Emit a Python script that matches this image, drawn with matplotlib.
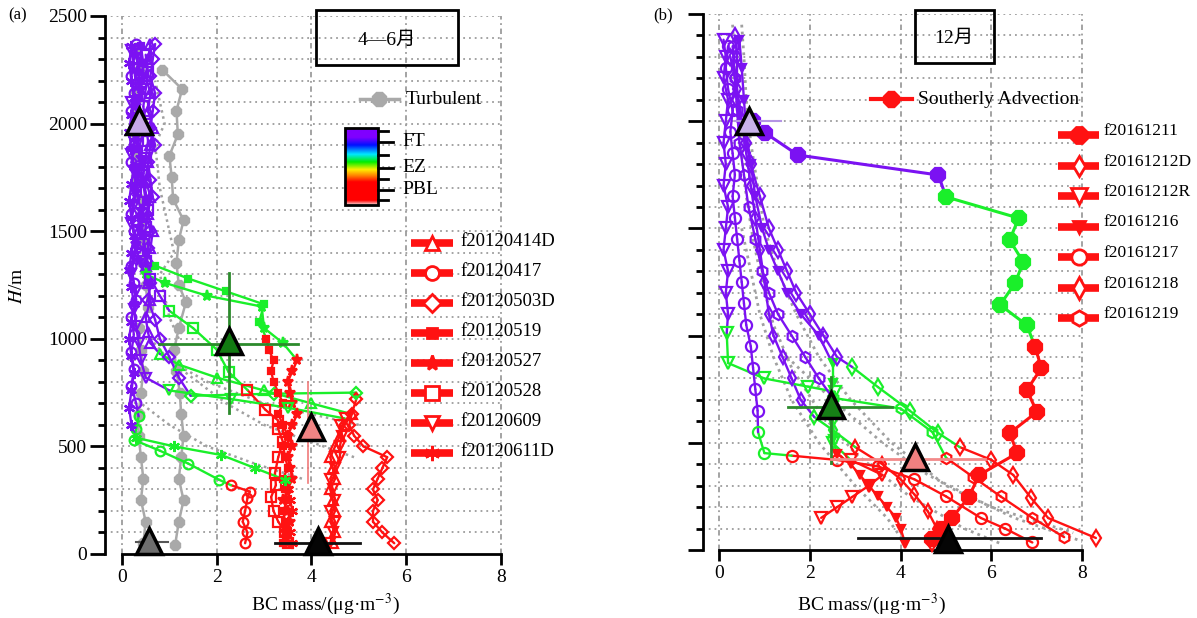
import numpy as np
import matplotlib
matplotlib.use("Agg")
import matplotlib.pyplot as plt
from matplotlib.colors import LinearSegmentedColormap
from matplotlib.patches import Rectangle

plt.rcParams['font.family'] = ['Liberation Serif', 'Noto Sans CJK SC']
plt.rcParams['mathtext.fontset'] = 'stix'

# ---------------- panel (a): Apr-Jun 2012 flights ----------------
a_names = ['f20120414D', 'f20120417', 'f20120503D', 'f20120519',
           'f20120527', 'f20120528', 'f20120609', 'f20120611D']

a1_h = [50, 100, 150, 200, 250, 300, 350, 400, 450, 500, 550, 600, 650, 700, 760, 820, 880, 930,
        980, 1030, 1100, 1180, 1260, 1340, 1420, 1500, 1580, 1660, 1740, 1820, 1900, 1980, 2060,
        2140, 2220, 2300, 2370]
a1_bc = [4.45, 4.5, 4.4, 4.5, 4.45, 4.4, 4.5, 4.45, 4.4, 4.5, 4.6, 4.7, 4.85, 4.0, 3.0, 2.0, 1.2, 0.8,
         0.6, 0.55, 0.5, 0.6, 0.55, 0.5, 0.6, 0.65, 0.55, 0.6, 0.5, 0.55, 0.6, 0.65, 0.55,
         0.6, 0.5, 0.55, 0.6]
a2_h = [50, 100, 150, 200, 260, 290, 320, 345, 420, 480, 530, 580, 640, 700, 780, 860, 940, 1020,
        1100, 1180, 1260, 1340, 1420, 1500, 1580, 1660, 1740, 1820, 1900, 1980, 2060, 2140, 2220,
        2300, 2370]
a2_bc = [2.6, 2.65, 2.55, 2.6, 2.65, 2.7, 2.3, 2.05, 1.4, 0.8, 0.25, 0.3, 0.35, 0.3, 0.2, 0.25, 0.2,
         0.25, 0.2, 0.3, 0.25, 0.2, 0.3, 0.25, 0.2, 0.25, 0.3, 0.2, 0.25, 0.3, 0.2, 0.25, 0.2,
         0.25, 0.3]
a3_h = [50, 100, 150, 200, 250, 300, 350, 400, 450, 500, 550, 600, 650, 720, 750, 745, 735, 820,
        916, 1000, 1088, 1180, 1260, 1340, 1420, 1500, 1580, 1660, 1740, 1820, 1900, 1980, 2060,
        2140, 2220, 2300, 2370]
a3_bc = [5.75, 5.5, 5.3, 5.3, 5.4, 5.3, 5.4, 5.5, 5.6, 5.1, 4.9, 4.8, 4.85, 4.95, 4.95, 3.2, 1.45,
         1.2, 1.0, 0.8, 0.7, 0.55, 0.6, 0.5, 0.55, 0.6, 0.5, 0.65, 0.6, 0.55, 0.7, 0.6, 0.65,
         0.7, 0.6, 0.65, 0.7]
a4_h = [50, 100, 150, 200, 250, 300, 350, 400, 450, 500, 550, 600, 650, 700, 750, 800, 850, 900,
        950, 1000, 1080, 1160, 1220, 1280, 1340, 1400, 1480, 1560, 1640, 1720, 1800, 1880, 1960,
        2040, 2120, 2200, 2280, 2360]
a4_bc = [3.4, 3.5, 3.45, 3.4, 3.5, 3.45, 3.4, 3.5, 3.45, 3.4, 3.5, 3.4, 3.3, 3.4, 3.3, 3.2, 3.15,
         3.2, 3.1, 3.05, 2.9, 3.0, 2.2, 1.4, 0.7, 0.5, 0.45, 0.4, 0.5, 0.45, 0.4, 0.35, 0.45,
         0.4, 0.35, 0.4, 0.45, 0.4]
a5_h = [50, 100, 150, 200, 250, 300, 350, 400, 450, 500, 550, 600, 650, 700, 750, 800, 850, 900,
        980, 1050, 1150, 1200, 1260, 1300, 1360, 1440, 1520, 1600, 1680, 1760, 1840, 1920, 2000,
        2080, 2160, 2240, 2320]
a5_bc = [3.5, 3.45, 3.55, 3.5, 3.4, 3.5, 3.6, 3.55, 3.5, 3.6, 3.5, 3.6, 3.7, 3.6, 3.55, 3.5, 3.6,
         3.7, 3.4, 3.0, 2.95, 1.8, 0.9, 0.5, 0.35, 0.3, 0.35, 0.4, 0.3, 0.35, 0.4, 0.3, 0.35,
         0.3, 0.4, 0.35, 0.3]
a6_h = [50, 100, 150, 200, 265, 320, 375, 450, 520, 580, 620, 670, 762, 846, 950, 1050, 1130,
        1200, 1280, 1360, 1440, 1520, 1600, 1680, 1760, 1840, 1920, 2000, 2080, 2160, 2240, 2320]
a6_bc = [3.5, 3.45, 3.3, 3.2, 3.15, 3.25, 3.23, 3.3, 3.4, 3.3, 3.3, 3.03, 2.65, 2.25, 2.0, 1.5,
         1.0, 0.8, 0.6, 0.5, 0.45, 0.5, 0.55, 0.5, 0.45, 0.5, 0.55, 0.5, 0.45, 0.5, 0.55, 0.5]
a7_h = [50, 100, 150, 200, 250, 300, 350, 400, 450, 500, 550, 600, 630, 680, 720, 760, 820, 900,
        980, 1060, 1140, 1220, 1300, 1380, 1460, 1540, 1620, 1700, 1780, 1860, 1940, 2020, 2100,
        2180, 2260, 2340]
a7_bc = [4.4, 4.45, 4.5, 4.4, 4.5, 4.45, 4.4, 4.5, 4.6, 4.6, 4.65, 4.6, 4.7, 3.5, 2.3, 1.0, 0.5,
         0.4, 0.35, 0.3, 0.25, 0.3, 0.2, 0.25, 0.3, 0.2, 0.25, 0.3, 0.25, 0.2, 0.3, 0.25, 0.2,
         0.3, 0.25, 0.2]
a8_h = [50, 100, 150, 200, 250, 300, 344, 400, 460, 500, 540, 600, 680, 760, 840, 920, 1000,
        1080, 1160, 1240, 1320, 1400, 1480, 1560, 1640, 1720, 1800, 1880, 1960, 2040, 2120, 2200,
        2280, 2360]
a8_bc = [3.6, 3.55, 3.5, 3.6, 3.55, 3.5, 3.45, 2.8, 2.1, 1.1, 0.3, 0.2, 0.15, 0.2, 0.25, 0.2,
         0.15, 0.2, 0.25, 0.2, 0.15, 0.2, 0.25, 0.2, 0.15, 0.2, 0.25, 0.2, 0.15, 0.2, 0.25, 0.2,
         0.15, 0.2]
# tops of the boundary layer and of the entrainment zone (m)
a_pbl = [660, 330, 725, 1010, 920, 780, 640, 320]
a_ez = [940, 660, 800, 1370, 1320, 1140, 790, 560]

# turbulent-regime profiles
ta1_h = [50, 150, 250, 350, 450, 550, 650, 750, 850, 950, 1050, 1150, 1250, 1350, 1450, 1550,
         1650, 1750, 1850, 1950, 2050, 2150, 2250, 2350]
ta1_bc = [0.45, 0.5, 0.4, 0.45, 0.4, 0.35, 0.35, 0.4, 0.45, 0.4, 0.35, 0.55, 0.5, 0.45, 0.45,
          0.45, 0.35, 0.3, 0.3, 0.3, 0.3, 0.3, 0.35, 0.3]
ta2_h = [40, 150, 250, 350, 450, 550, 650, 750, 850, 950, 1050, 1170, 1250, 1350, 1460, 1550,
         1650, 1750, 1850, 1950, 2060, 2160, 2250]
ta2_bc = [1.12, 1.2, 1.3, 1.2, 1.25, 1.3, 1.25, 1.22, 1.15, 1.1, 1.2, 1.35, 1.2, 1.15, 1.2, 1.3,
          1.08, 1.05, 1.0, 1.18, 1.15, 1.27, 0.85]
# dotted reference profiles
da1_h = [450, 520, 600, 700, 800, 900, 1000]
da1_bc = [4.9, 4.0, 3.0, 2.2, 1.6, 1.0, 0.6]
da2_h = [350, 420, 500, 600, 700]
da2_bc = [3.8, 2.8, 1.8, 1.0, 0.4]
da3_h = [600, 650, 700, 800, 900]
da3_bc = [5.0, 4.0, 3.0, 1.8, 1.0]
da4_h = [1000, 1100, 1200, 1300, 1400, 1500, 1600, 1700, 1800, 1900, 2000, 2100, 2200]
da4_bc = [1.2, 1.0, 0.9, 0.8, 1.1, 1.0, 0.9, 0.8, 0.75, 0.7, 0.9, 0.8, 0.7]

# layer means: FT, EZ, PBL upper, surface, turbulent surface
a_mean_bc = [0.35, 2.25, 4.0, 4.13, 0.57]
a_mean_h = [2010, 990, 590, 60, 60]

# ---------------- panel (b): Dec 2016 flights ----------------
b_names = ['f20161211', 'f20161212D', 'f20161212R', 'f20161216',
           'f20161217', 'f20161218', 'f20161219']

b1_h = [50, 100, 149, 247, 350, 452, 545, 644, 746, 849, 947, 1049, 1143, 1245, 1343, 1446,
        1548, 1647, 1749, 1842, 1945, 2000]
b1_bc = [4.7, 4.9, 5.13, 5.5, 5.73, 6.57, 6.4, 7.0, 6.78, 7.1, 6.96, 6.78, 6.19, 6.52, 6.7, 6.4,
         6.6, 5.0, 4.83, 1.74, 1.02, 0.75]
b2_h = [30, 100, 180, 260, 330, 400, 480, 560, 620, 700, 800, 900, 1000, 1100, 1250, 1400, 1550,
        1700, 1850, 2000, 2150, 2300, 2400]
b2_bc = [4.7, 4.8, 4.6, 4.3, 4.0, 3.6, 3.0, 2.5, 2.1, 1.8, 1.6, 1.4, 1.2, 1.1, 1.0, 0.9, 0.8,
         0.7, 0.6, 0.5, 0.4, 0.4, 0.35]
b3_h = [150, 200, 247, 300, 350, 420, 500, 600, 738, 762, 800, 872, 1012, 1100, 1200, 1300, 1400,
        1500, 1600, 1700, 1800, 1900, 2000, 2100, 2200, 2300, 2380]
b3_bc = [2.25, 2.6, 2.93, 3.3, 3.6, 2.9, 2.5, 2.5, 2.55, 1.96, 1.0, 0.2, 0.17, 0.2, 0.15, 0.2,
         0.1, 0.15, 0.2, 0.1, 0.15, 0.1, 0.15, 0.2, 0.1, 0.15, 0.1]
b4_h = [30, 100, 150, 200, 250, 300, 350, 400, 450, 520, 650, 780, 870, 1000, 1100, 1200, 1300,
        1400, 1500, 1650, 1800, 1950, 2100, 2250, 2380]
b4_bc = [4.1, 4.0, 3.9, 3.7, 3.5, 3.3, 3.1, 2.9, 2.6, 2.5, 2.45, 2.5, 2.5, 2.2, 1.8, 1.5, 1.3,
         1.1, 0.95, 0.8, 0.7, 0.6, 0.55, 0.5, 0.45]
b5_h = [35, 100, 149, 250, 330, 390, 420, 440, 452, 550, 650, 750, 850, 950, 1050, 1150, 1250,
        1350, 1450, 1550, 1650, 1750, 1850, 1950, 2050, 2150, 2250, 2350]
b5_bc = [6.9, 6.3, 5.77, 5.0, 4.3, 3.5, 2.6, 1.6, 1.0, 0.86, 0.85, 0.8, 0.75, 0.7, 0.6, 0.55,
         0.5, 0.45, 0.4, 0.35, 0.3, 0.35, 0.3, 0.25, 0.3, 0.2, 0.15, 0.2]
b6_h = [56, 149, 243, 350, 420, 480, 545, 650, 760, 854, 900, 1000, 1100, 1200, 1300, 1400, 1500,
        1650, 1800, 1900, 2000, 2100, 2200, 2300]
b6_bc = [8.3, 7.25, 6.87, 6.48, 6.0, 5.3, 4.83, 4.2, 3.5, 2.93, 2.6, 2.3, 2.0, 1.7, 1.5, 1.3,
         1.1, 0.9, 0.7, 0.6, 0.5, 0.4, 0.35, 0.25]
b7_h = [60, 150, 250, 340, 430, 550, 660, 710, 800, 900, 1000, 1100, 1200, 1300, 1450, 1600,
        1750, 1900, 2050, 2200, 2350]
b7_bc = [7.6, 6.9, 6.2, 5.6, 5.0, 4.7, 4.0, 2.5, 2.2, 1.9, 1.6, 1.3, 1.1, 0.95, 0.8, 0.65, 0.55,
         0.45, 0.4, 0.35, 0.3]
b_pbl = [960, 520, 460, 470, 445, 530, 450]
b_ez = [1700, 650, 1050, 900, 560, 870, 760]

# dotted reference profiles
db1_h = [2450, 2300, 2100, 1900, 1700, 1500, 1300, 1100, 900, 700, 500, 300, 150, 40]
db1_bc = [0.5, 0.55, 0.6, 0.7, 0.85, 1.0, 1.3, 1.7, 2.2, 2.9, 3.8, 5.0, 6.5, 8.0]
db2_h = [2450, 2250, 2050, 1850, 1650, 1450, 1250, 1050, 850, 650, 450, 250, 100, 30]
db2_bc = [0.3, 0.35, 0.4, 0.5, 0.6, 0.75, 0.95, 1.2, 1.6, 2.2, 3.0, 4.2, 5.4, 6.2]
db3_h = [1500, 1300, 1100, 900, 700, 500, 300, 150, 30]
db3_bc = [0.5, 0.7, 0.9, 1.2, 1.6, 2.2, 3.0, 3.7, 4.1]
db4_h = [900, 700, 500, 350, 200, 80]
db4_bc = [1.5, 2.5, 3.6, 4.6, 6.0, 7.8]

b_mean_bc = [0.65, 2.47, 4.32, 5.04]
b_mean_h = [2000, 676, 434, 50]

RED = '#ff1212'
GREEN = '#1aef2a'
PURPLE = '#7b12f2'
GRAY = '#a9a9a9'


def layer_color(z, pbl, ez):
    if z <= pbl:
        return RED
    if z <= ez:
        return GREEN
    return PURPLE


def draw_flight(ax, bc, h, pbl, ez, marker, ms=7, filled=False, lw=1.7):
    cols = [layer_color(z, pbl, ez) for z in h]
    for i in range(len(h) - 1):
        ax.plot(bc[i:i + 2], h[i:i + 2], color=cols[i + 1], lw=lw, zorder=3,
                solid_capstyle='round')
    for x, z, c in zip(bc, h, cols):
        ax.plot(x, z, marker=marker, ms=ms, mec=c, mfc=c if filled else 'none',
                mew=1.6, zorder=4, clip_on=False)


def setup(ax, xmin, ylabels=True):
    ax.set_xlim(xmin, ax.get_xlim()[1])
    ax.set_ylim(0, 2500)
    ax.patch.set_alpha(0)
    for s in ['top', 'right']:
        ax.spines[s].set_visible(False)
    ax.spines['bottom'].set_bounds(0, 8)
    ax.spines['left'].set_bounds(0, 2500)
    for s in ['bottom', 'left']:
        ax.spines[s].set_linewidth(2)
    ax.set_xticks([0, 2, 4, 6, 8])
    ax.set_yticks(range(0, 2501, 500))
    ax.set_yticks(range(0, 2501, 100), minor=True)
    ax.tick_params(axis='y', which='major', length=11, width=2, labelsize=14, pad=2,
                   labelleft=ylabels)
    ax.tick_params(axis='y', which='minor', length=5, width=2)
    ax.tick_params(axis='x', which='major', length=8, width=2, labelsize=14, pad=3)
    ax.hlines(range(100, 2501, 100), xmin, 8, colors='#9c9c9c', lw=1.3,
              linestyles=(0, (1, 2.2)), zorder=1)
    ax.vlines([0, 2, 4, 6, 8], 0, 2500, colors='#9c9c9c', lw=1.3,
              linestyles=(0, (3, 2, 1, 2)), zorder=1)


fig = plt.figure(figsize=(11.97, 6.18), dpi=100)
ax_a = fig.add_axes([105 / 1197, 64 / 618, 410 / 1197, 538 / 618])
ax_b = fig.add_axes([703 / 1197, 68 / 618, 402 / 1197, 536 / 618])
ax_a.set_xlim(-0.359, 8.3)
ax_b.set_xlim(-0.352, 8.5)
setup(ax_a, -0.359, True)
setup(ax_b, -0.352, False)

# ---- panel (a) ----
for bc, h in [(da1_bc, da1_h), (da2_bc, da2_h), (da3_bc, da3_h), (da4_bc, da4_h)]:
    ax_a.plot(bc, h, color='#a0a0a0', lw=1.8, ls=(0, (1, 1.5)), zorder=2)
for bc, h in [(ta1_bc, ta1_h), (ta2_bc, ta2_h)]:
    ax_a.plot(bc, h, color=GRAY, lw=1.8, marker='8', ms=8, zorder=2)

a_bc = [a1_bc, a2_bc, a3_bc, a4_bc, a5_bc, a6_bc, a7_bc, a8_bc]
a_h = [a1_h, a2_h, a3_h, a4_h, a5_h, a6_h, a7_h, a8_h]
a_marker = ['^', 'o', 'D', 's', '*', 's', 'v', (6, 2, 0)]
a_ms = [7, 7, 6, 4, 8, 7, 7, 8]
a_fill = [False, False, False, True, True, False, False, False]
for i in range(8):
    draw_flight(ax_a, a_bc[i], a_h[i], a_pbl[i], a_ez[i], a_marker[i], a_ms[i], a_fill[i])

# error bars of the layer means
ax_a.plot([0.78, 3.72], [975, 975], color='#2c8a2c', lw=2, zorder=5)
ax_a.plot([2.25, 2.25], [654, 1305], color='#2c8a2c', lw=2, zorder=5)
ax_a.plot([3.93, 3.93], [330, 800], color='#f07a7a', lw=1.2, zorder=5)
ax_a.plot([3.23, 5.03], [50, 50], color='#111111', lw=2, zorder=5)
ax_a.plot([0.3, 0.98], [55, 55], color='#555555', lw=1.5, zorder=5)
a_mean_col = ['#c6a8e8', '#127a12', '#f08484', '#050505', '#6e6e6e']
for x, z, c in zip(a_mean_bc, a_mean_h, a_mean_col):
    ax_a.plot(x, z, marker='^', ms=19, mfc=c, mec='black', mew=2.5, zorder=6, clip_on=False)

# ---- panel (b) ----
for bc, h in [(db1_bc, db1_h), (db2_bc, db2_h), (db3_bc, db3_h), (db4_bc, db4_h)]:
    ax_b.plot(bc, h, color='#a0a0a0', lw=2, ls=(0, (1, 1.5)), zorder=2, clip_on=False)

b_bc = [b1_bc, b2_bc, b3_bc, b4_bc, b5_bc, b6_bc, b7_bc]
b_h = [b1_h, b2_h, b3_h, b4_h, b5_h, b6_h, b7_h]
b_marker = ['8', 'd', 'v', 'v', 'o', 'd', 'h']
b_ms = [11, 7, 8, 6, 8, 8, 8]
b_fill = [True, False, False, True, False, False, False]
for i in range(7):
    draw_flight(ax_b, b_bc[i], b_h[i], b_pbl[i], b_ez[i], b_marker[i], b_ms[i], b_fill[i],
                lw=2.2 if i == 0 else 1.7)

ax_b.plot([0.35, 1.37], [2000, 2000], color='#b494e4', lw=1.5, zorder=5)
ax_b.plot([1.52, 3.8], [667, 667], color='#2c8a2c', lw=2, zorder=5)
ax_b.plot([2.47, 2.47], [405, 807], color='#2c8a2c', lw=2, zorder=5)
ax_b.plot([2.47, 5.86], [424, 424], color='#f28a8a', lw=2, zorder=5)
ax_b.plot([3.06, 7.08], [56, 56], color='#111111', lw=2, zorder=5)
b_mean_col = ['#c8b2ea', '#168016', '#f08080', '#050505']
for x, z, c in zip(b_mean_bc, b_mean_h, b_mean_col):
    ax_b.plot(x, z, marker='^', ms=19, mfc=c, mec='black', mew=2.5, zorder=6, clip_on=False)

# ---- annotations drawn in figure pixels ----
lay = fig.add_axes([0, 0, 1, 1], zorder=10)
lay.set_xlim(0, 1197)
lay.set_ylim(618, 0)
lay.axis('off')

lay.text(8, 15, '(a)', fontsize=12, va='center')
lay.text(653, 15, '(b)', fontsize=12, va='center')
lay.text(17, 286, r'$H$/m', fontsize=14, rotation=90, ha='center', va='center')
xlab = r'BC mass/(μg·m$^{-3}$)'
lay.text(325, 604, xlab, fontsize=14, ha='center', va='center')
lay.text(871, 604, xlab, fontsize=14, ha='center', va='center')

lay.add_patch(Rectangle((316, 10), 142, 55, fill=False, lw=2, ec='black'))
lay.text(387, 40, '4—6月', fontsize=14, ha='center', va='center')
lay.add_patch(Rectangle((915, 10), 79, 53, fill=False, lw=2, ec='black'))
lay.text(954, 38, '12月', fontsize=14, ha='center', va='center')

# regime legends
lay.plot([360, 399], [99, 99], color=GRAY, lw=2.5)
lay.plot(379, 99, marker='8', ms=11, color=GRAY)
lay.text(406, 99, 'Turbulent', fontsize=14, va='center')
lay.plot([871, 912], [99, 99], color=RED, lw=3)
lay.plot(891, 99, marker='8', ms=12, color=RED)
lay.text(918, 99, 'Southerly Advection', fontsize=14, va='center')

# layer colour bar
cmap = LinearSegmentedColormap.from_list('layers', [
    (0.0, '#f6dede'), (0.06, '#ff0000'), (0.3, '#ff0000'), (0.38, '#ff8000'),
    (0.46, '#ffee00'), (0.56, '#00ee00'), (0.66, '#00e8ff'), (0.78, '#0010ff'),
    (0.88, '#8000ff'), (1.0, '#8000ff')])
grad = np.linspace(0, 1, 256).reshape(-1, 1)
lay.imshow(grad, extent=[345, 378, 205, 128], aspect='auto', cmap=cmap, origin='lower')
lay.add_patch(Rectangle((345, 128), 33, 77, fill=False, lw=2, ec='black'))
for yy in [142, 168, 190]:
    lay.plot([378, 393], [yy, yy], color='black', lw=2)
for yy in [131, 155, 179, 200]:
    lay.plot([378, 388], [yy, yy], color='black', lw=2)
for yy, lab in zip([142, 168, 190], ['FT', 'EZ', 'PBL']):
    lay.text(402, yy, lab, fontsize=14, va='center')
lay.set_xlim(0, 1197)
lay.set_ylim(618, 0)

# flight legends
for i, name in enumerate(a_names):
    yy = 243 + 30 * i
    lay.plot([411, 453], [yy, yy], color=RED, lw=5.5, solid_capstyle='butt')
    lay.plot(432, yy, marker=a_marker[i], ms=a_ms[i] + 3, mec=RED,
             mfc=RED if a_fill[i] else 'white', mew=2)
    lay.text(460, yy - 2, name, fontsize=13.5, va='center')
for i, name in enumerate(b_names):
    yy = 135 + 30.5 * i
    lay.plot([1058, 1099], [yy, yy], color=RED, lw=5.5, solid_capstyle='butt')
    lay.plot(1079, yy, marker=b_marker[i], ms=min(b_ms[i], 9) + 3, mec=RED,
             mfc=RED if b_fill[i] else 'white', mew=2)
    lay.text(1103, yy - 4, name, fontsize=12.5, va='center')

fig.savefig('out.png', dpi=100)
